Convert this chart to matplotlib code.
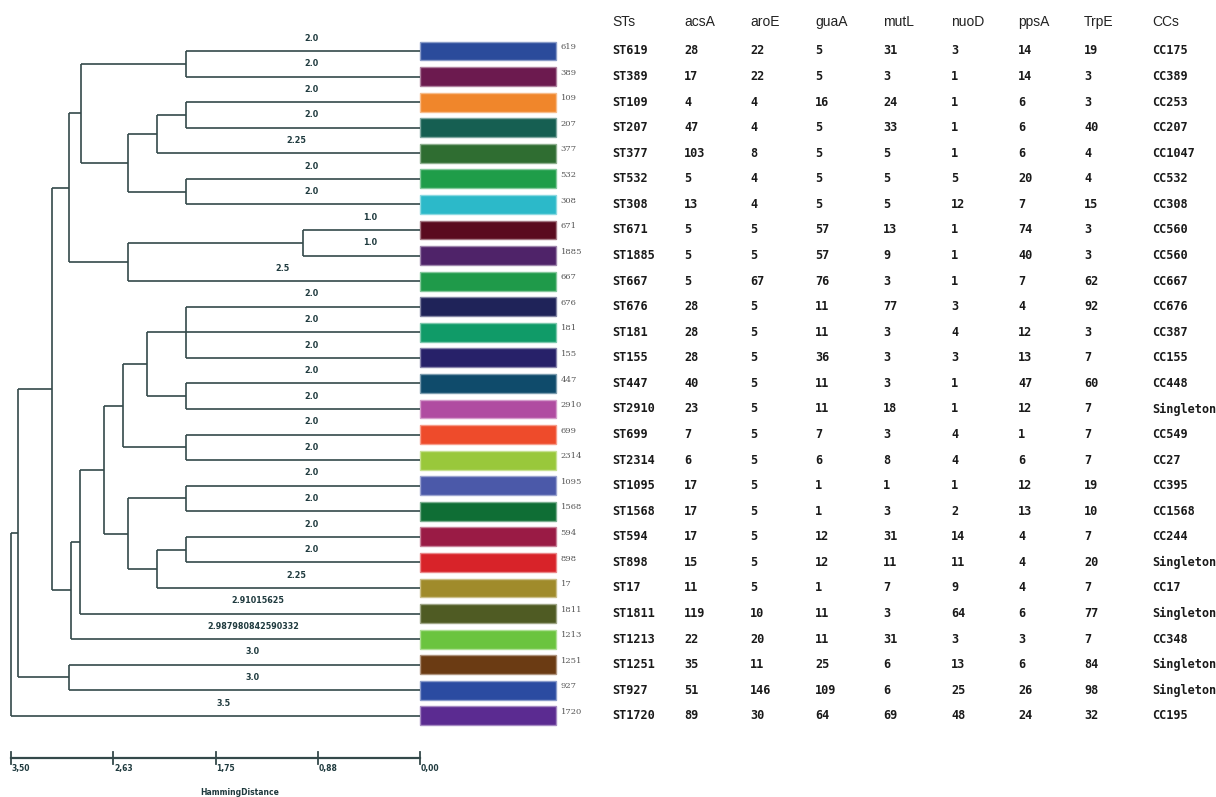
import numpy as np
import matplotlib
matplotlib.use('Agg')
import matplotlib.pyplot as plt
import matplotlib.colors as mcolors

# dendrogram: (height, child, child, ...) ; leaves are ST numbers
tree = (3.5,
        (3.44,
         (3.15,
          (3.0,
           (2.9,
            (2.0, '619', '389'),
            (2.5, (2.25, (2.0, '109', '207'), '377'), (2.0, '532', '308'))),
           (2.5, (1.0, '671', '1885'), '667')),
          (2.987980842590332,
           (2.91015625,
            (2.70,
             (2.54,
              (2.34, (2.0, '676', '181', '155'), (2.0, '447', '2910')),
              (2.0, '699', '2314')),
             (2.5, (2.0, '1095', '1568'), (2.25, (2.0, '594', '898'), '17'))),
            '1811'),
           '1213')),
         (3.0, '1251', '927')),
        '1720')

bar_colors = ['#2b4b9b', '#6c1a4f', '#f0862b', '#165f52', '#2f6d31', '#1f9d49',
              '#2cb9c9', '#5a0b1f', '#4f2369', '#1f9a4a', '#1f2359', '#109b68',
              '#272169', '#0f4b6b', '#b04ca1', '#ee4b2b', '#99c83b', '#4b59a9',
              '#0f6e35', '#9a1b45', '#d82329', '#a08b2b', '#4f5b23', '#6bc43f',
              '#6b3b13', '#2b4ba1', '#5b2b91']

sts = ['ST619', 'ST389', 'ST109', 'ST207', 'ST377', 'ST532', 'ST308', 'ST671',
       'ST1885', 'ST667', 'ST676', 'ST181', 'ST155', 'ST447', 'ST2910', 'ST699',
       'ST2314', 'ST1095', 'ST1568', 'ST594', 'ST898', 'ST17', 'ST1811', 'ST1213',
       'ST1251', 'ST927', 'ST1720']
acsA = [28, 17, 4, 47, 103, 5, 13, 5, 5, 5, 28, 28, 28, 40, 23, 7, 6, 17, 17, 17, 15, 11, 119, 22, 35, 51, 89]
aroE = [22, 22, 4, 4, 8, 4, 4, 5, 5, 67, 5, 5, 5, 5, 5, 5, 5, 5, 5, 5, 5, 5, 10, 20, 11, 146, 30]
guaA = [5, 5, 16, 5, 5, 5, 5, 57, 57, 76, 11, 11, 36, 11, 11, 7, 6, 1, 1, 12, 12, 1, 11, 11, 25, 109, 64]
mutL = [31, 3, 24, 33, 5, 5, 5, 13, 9, 3, 77, 3, 3, 3, 18, 3, 8, 1, 3, 31, 11, 7, 3, 31, 6, 6, 69]
nuoD = [3, 1, 1, 1, 1, 5, 12, 1, 1, 1, 3, 4, 3, 1, 1, 4, 4, 1, 2, 14, 11, 9, 64, 3, 13, 25, 48]
ppsA = [14, 14, 6, 6, 6, 20, 7, 74, 40, 7, 4, 12, 13, 47, 12, 1, 6, 12, 13, 4, 4, 4, 6, 3, 6, 26, 24]
trpE = [19, 3, 3, 40, 4, 4, 15, 3, 3, 62, 92, 3, 7, 60, 7, 7, 7, 19, 10, 7, 20, 7, 77, 7, 84, 98, 32]
ccs = ['CC175', 'CC389', 'CC253', 'CC207', 'CC1047', 'CC532', 'CC308', 'CC560', 'CC560',
       'CC667', 'CC676', 'CC387', 'CC155', 'CC448', 'Singleton', 'CC549', 'CC27', 'CC395',
       'CC1568', 'CC244', 'Singleton', 'CC17', 'Singleton', 'CC348', 'Singleton',
       'Singleton', 'CC195']
headers = ['STs', 'acsA', 'aroE', 'guaA', 'mutL', 'nuoD', 'ppsA', 'TrpE', 'CCs']
scale_ticks = [3.50, 2.625, 1.75, 0.875, 0.0]
scale_labels = ['3,50', '2,63', '1,75', '0,88', '0,00']

W, H = 1216, 797
fig = plt.figure(figsize=(W / 100, H / 100), dpi=100)
fig.patch.set_facecolor('white')

px_unit = 409 / 3.5
row_px = 25.57
ylim = ((H - 51) / row_px, -51 / row_px)
x_left = 3.5 + 11 / px_unit

ax = fig.add_axes([0, 0, 600 / W, 1])
ax.set_xlim(x_left, x_left - 600 / px_unit)
ax.set_ylim(*ylim)
ax.axis('off')

line_col = '#34494a'
lab_col = '#1f3a3e'

# walk tree to get leaf order
order = []
def collect(node):
    if isinstance(node, str):
        order.append(node)
    else:
        for c in node[1:]:
            collect(c)
collect(tree)
ypos = {name: i for i, name in enumerate(order)}

def draw(node):
    if isinstance(node, str):
        return ypos[node], 0.0
    h = node[0]
    ys = []
    for c in node[1:]:
        cy, ch = draw(c)
        ax.plot([h, ch], [cy, cy], color=line_col, lw=1.2, solid_capstyle='butt')
        if isinstance(c, str):
            ax.text(h / 2 - 0.07, cy - 0.5, str(h), ha='center', va='center',
                    fontsize=5.8, fontweight='bold', color=lab_col)
        ys.append(cy)
    ax.plot([h, h], [ys[0], ys[-1]], color=line_col, lw=1.2, solid_capstyle='butt')
    return (ys[0] + ys[-1]) / 2, h

draw(tree)

# coloured bars
bar_w = 1.16
for i, name in enumerate(order):
    c = bar_colors[i]
    edge = mcolors.to_hex(0.55 * np.array(mcolors.to_rgb(c)) + 0.45)
    ax.barh(i, -bar_w, left=0, height=0.74, color=c, edgecolor=edge, linewidth=1.0)
    ax.text(-bar_w - 5 / px_unit, i - 0.15, name, ha='left', va='center',
            fontsize=6, color='#555555', fontfamily='DejaVu Serif')

# distance scale bar
sy = 27.65
ax.plot([scale_ticks[0], scale_ticks[-1]], [sy, sy], color=line_col, lw=1.6)
for t, lab in zip(scale_ticks, scale_labels):
    ax.plot([t, t], [sy - 0.22, sy + 0.22], color=line_col, lw=1.3)
    ax.text(t - 1 / px_unit, sy + 0.42, lab, ha='left', va='center',
            fontsize=5.5, fontweight='bold', color=lab_col)
ax.text(1.54, 29.0, 'HammingDistance', ha='center', va='center',
        fontsize=5.5, fontweight='bold', color=lab_col)

# allele table
tab = fig.add_axes([600 / W, 0, 616 / W, 1])
tab.set_xlim(600, 1216)
tab.set_ylim(*ylim)
tab.axis('off')
col_x = [612, 684, 750, 815, 883, 951, 1018, 1084, 1152]
for x, hd in zip(col_x, headers):
    tab.text(x, -1.12, hd, ha='left', va='center', fontsize=10,
             fontfamily='Liberation Sans', color='#222222')
columns = [sts, acsA, aroE, guaA, mutL, nuoD, ppsA, trpE, ccs]
for x, col in zip(col_x, columns):
    for i, v in enumerate(col):
        tab.text(x, i, str(v), ha='left', va='center', fontsize=8.6,
                 fontweight='bold', fontfamily='DejaVu Sans Mono', color='#1a1a1a')

fig.savefig('out.png', dpi=100)
